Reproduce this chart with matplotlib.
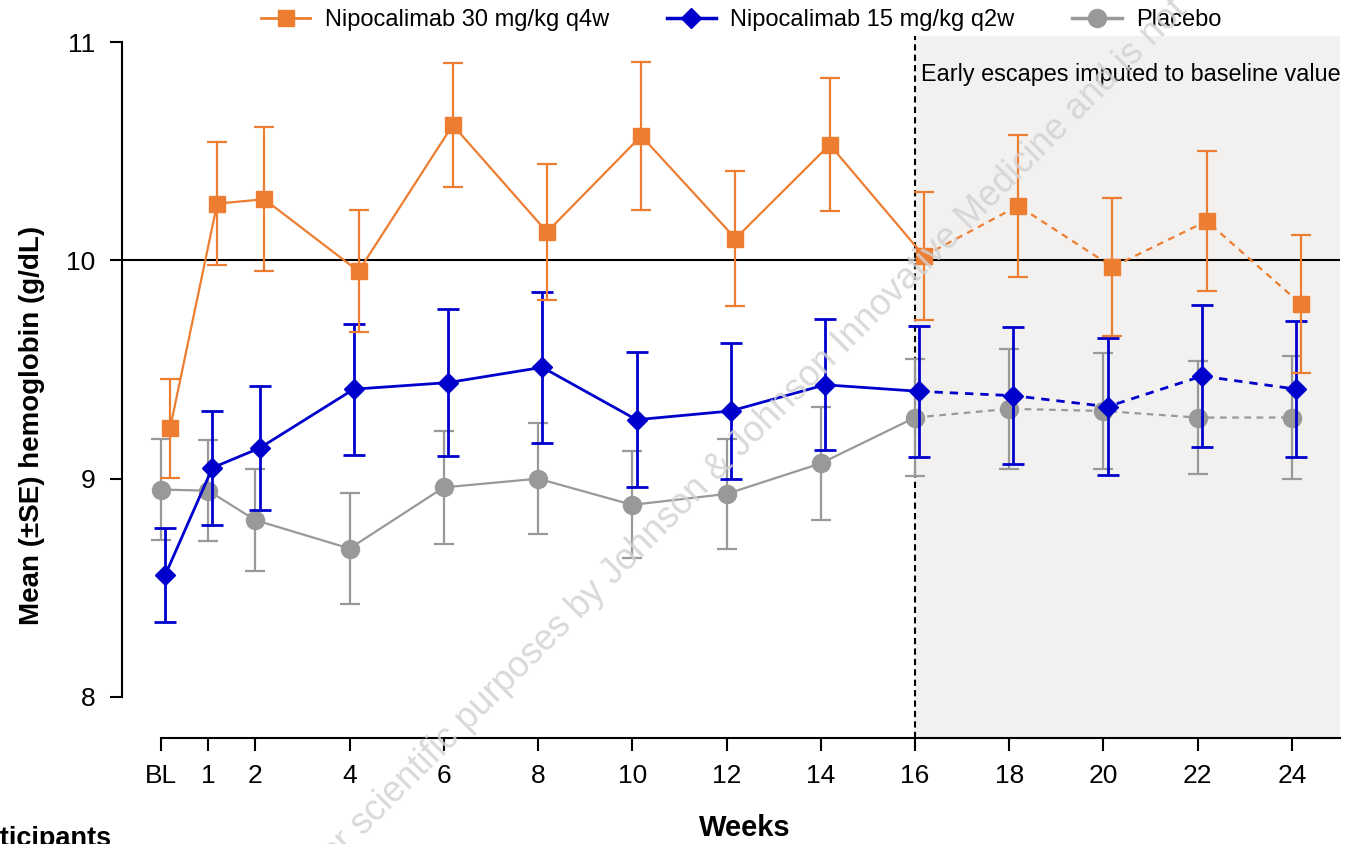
import matplotlib
matplotlib.use("Agg")
import matplotlib.pyplot as plt
from matplotlib.lines import Line2D

plt.rcParams['font.family'] = ['Liberation Sans', 'DejaVu Sans']

#####################
# data
weeks = [0, 1, 2, 4, 6, 8, 10, 12, 14, 16, 18, 20, 22, 24]
week_labels = ['BL', '1', '2', '4', '6', '8', '10', '12', '14', '16', '18', '20', '22', '24']

hb_30 = [9.23, 10.26, 10.28, 9.95, 10.62, 10.13, 10.57, 10.10, 10.53, 10.02, 10.25, 9.97, 10.18, 9.80]
se_30 = [0.225, 0.28, 0.33, 0.28, 0.285, 0.31, 0.34, 0.31, 0.305, 0.295, 0.325, 0.315, 0.32, 0.315]

hb_15 = [8.56, 9.05, 9.14, 9.41, 9.44, 9.51, 9.27, 9.31, 9.43, 9.40, 9.38, 9.33, 9.47, 9.41]
se_15 = [0.215, 0.26, 0.285, 0.30, 0.335, 0.345, 0.31, 0.31, 0.30, 0.30, 0.315, 0.315, 0.325, 0.31]

hb_pbo = [8.95, 8.945, 8.81, 8.68, 8.96, 9.00, 8.88, 8.93, 9.07, 9.28, 9.32, 9.31, 9.28, 9.28]
se_pbo = [0.23, 0.23, 0.235, 0.255, 0.26, 0.255, 0.245, 0.25, 0.26, 0.27, 0.275, 0.265, 0.26, 0.28]

names = ['Nipocalimab 30 mg/kg q4w', 'Nipocalimab 15 mg/kg q2w', 'Placebo']
#####################

c_or = '#ed7d31'
c_bl = '#0000cc'
c_gr = '#999999'
cut = 16   # early escape imputation starts here

fig = plt.figure(figsize=(13.45, 8.44), dpi=100)
ax = fig.add_axes([0.0907, 0.1256, 0.9056, 0.8318])
xmin, xmax = -0.83, 25.02
ax.set_xlim(xmin, xmax)
ax.set_ylim(7.812, 11.028)

ax.axvspan(cut, xmax, color='#f2f1ef', lw=0, zorder=0)
ax.axvline(cut, color='k', lw=1.5, ls=(0, (3, 2)), zorder=1)
ax.axhline(10, color='k', lw=1.5, zorder=1)

series = [
    (hb_pbo, se_pbo, c_gr, 'o', 13, 0.0, 1.6, 7, 2),
    (hb_15, se_15, c_bl, 'D', 10, 0.09, 2.0, 8, 3),
    (hb_30, se_30, c_or, 's', 11.5, 0.19, 1.6, 7, 4),
]
for y, se, col, mk, ms, dx, lw, cs, z in series:
    x = [w + dx for w in weeks]
    ax.errorbar(x, y, yerr=se, fmt='none', ecolor=col, elinewidth=lw,
                capsize=cs, capthick=lw, zorder=z)
    n = weeks.index(cut) + 1
    ax.plot(x[:n], y[:n], color=col, lw=lw, zorder=z)
    ax.plot(x[n - 1:], y[n - 1:], color=col, lw=lw, ls=(0, (3, 2.5)), zorder=z)
    ax.plot(x, y, ls='none', marker=mk, ms=ms, color=col, mec=col, zorder=z + 0.5)

ax.text(16.12, 10.85, 'Early escapes imputed to baseline value', fontsize=16.8,
        ha='left', va='center', zorder=6)

# axes styling
for s in ['top', 'right']:
    ax.spines[s].set_visible(False)
ax.spines['left'].set_bounds(8, 11)
ax.spines['bottom'].set_bounds(0, xmax)
ax.spines['left'].set_linewidth(1.5)
ax.spines['bottom'].set_linewidth(1.5)
ax.set_yticks([8, 9, 10, 11])
ax.set_xticks(weeks)
ax.set_xticklabels(week_labels)
ax.tick_params(axis='both', direction='out', length=9, width=1.5, labelsize=19, pad=10)

ax.set_ylabel('Mean (±SE) hemoglobin (g/dL)', fontsize=20, fontweight='bold')
ax.yaxis.set_label_coords(-0.063, 0.445)
ax.set_xlabel('Weeks', fontsize=21, fontweight='bold')
ax.xaxis.set_label_coords(0.511, -0.108)

handles = [
    Line2D([], [], color=c_or, lw=2, marker='s', ms=12),
    Line2D([], [], color=c_bl, lw=2.5, marker='D', ms=10),
    Line2D([], [], color=c_gr, lw=2.5, marker='o', ms=13),
]
fig.legend(handles, names, ncol=3, loc='center', bbox_to_anchor=(0.551, 0.976),
           frameon=False, fontsize=17, handlelength=2.1, handletextpad=0.6,
           columnspacing=2.45)

fig.text(0.0825, 0.0213, 'Participants', fontsize=19.5, fontweight='bold',
         ha='right', va='top')

# watermark
fig.text(0.2424, -0.0344, 'for scientific purposes by Johnson & Johnson Innovative Medicine and is not',
         fontsize=26, color='#d2d2d2', alpha=0.85, rotation=45, rotation_mode='anchor',
         ha='left', va='baseline', zorder=10)

fig.savefig('out.png', dpi=100)
